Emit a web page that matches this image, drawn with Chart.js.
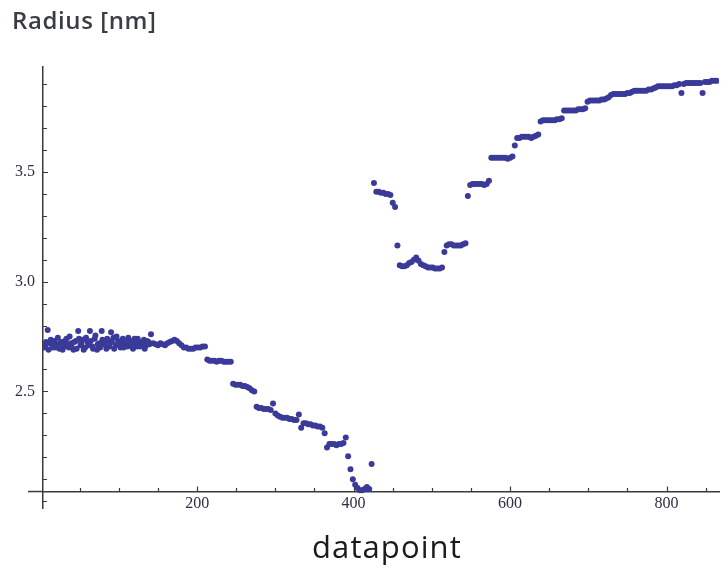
<!DOCTYPE html>
<html>
<head>
<meta charset="utf-8">
<script src="https://cdn.jsdelivr.net/npm/chart.js@4.4.0/dist/chart.umd.min.js"></script>
<style>
  html, body { margin: 0; padding: 0; background: #ffffff; }
  #wrap { position: relative; width: 722px; height: 568px; overflow: hidden; background: #fff; }
  #chart { position: absolute; left: 0; top: 0; }
  #ytitle { position: absolute; left: 12px; top: 3px; font: 600 24px 'Open Sans', sans-serif; letter-spacing: 0.6px; color: #3a3d44; white-space: nowrap; }
  #xtitle { position: absolute; left: 312px; top: 525px; font: 400 31px 'Open Sans', sans-serif; letter-spacing: 1.1px; color: #1a1a1a; white-space: nowrap; }
</style>
</head>
<body>
<div id="wrap">
  <canvas id="chart" width="722" height="568"></canvas>
  <div id="ytitle">Radius [nm]</div>
  <div id="xtitle">datapoint</div>
</div>
<script>
// ---- data ----
const datapoint = [
  3, 6, 9, 12, 15, 18, 21, 24, 27, 30,
  33, 36, 39, 42, 45, 48, 51, 54, 57, 60,
  63, 66, 69, 72, 75, 78, 81, 84, 87, 90,
  93, 96, 99, 102, 105, 108, 111, 114, 117, 120,
  123, 126, 129, 132, 135, 138, 141, 144, 147, 150,
  153, 156, 159, 162, 165, 168, 171, 174, 177, 180,
  183, 186, 189, 192, 195, 198, 201, 204, 207, 210,
  213, 216, 219, 222, 225, 228, 231, 234, 237, 240,
  243, 246, 249, 252, 255, 258, 261, 264, 267, 270,
  273, 276, 279, 282, 285, 288, 291, 294, 297, 300,
  303, 306, 309, 312, 315, 318, 321, 324, 327, 330,
  333, 336, 339, 342, 345, 348, 351, 354, 357, 360,
  363, 366, 369, 372, 375, 378, 381, 384, 387, 390,
  393, 396, 399, 402, 405, 408, 411, 414, 417, 420,
  423, 426, 429, 432, 435, 438, 441, 444, 447, 450,
  453, 456, 459, 462, 465, 468, 471, 474, 477, 480,
  483, 486, 489, 492, 495, 498, 501, 504, 507, 510,
  513, 516, 519, 522, 525, 528, 531, 534, 537, 540,
  543, 546, 549, 552, 555, 558, 561, 564, 567, 570,
  573, 576, 579, 582, 585, 588, 591, 594, 597, 600,
  603, 606, 609, 612, 615, 618, 621, 624, 627, 630,
  633, 636, 639, 642, 645, 648, 651, 654, 657, 660,
  663, 666, 669, 672, 675, 678, 681, 684, 687, 690,
  693, 696, 699, 702, 705, 708, 711, 714, 717, 720,
  723, 726, 729, 732, 735, 738, 741, 744, 747, 750,
  753, 756, 759, 762, 765, 768, 771, 774, 777, 780,
  783, 786, 789, 792, 795, 798, 801, 804, 807, 810,
  813, 816, 819, 822, 825, 828, 831, 834, 837, 840,
  843, 846, 849, 852, 855, 858, 861, 864
];
const radiusNm = [
  2.715, 2.705, 2.78, 2.72, 2.70, 2.73, 2.71, 2.695, 2.725, 2.705,
  2.74, 2.70, 2.72, 2.69, 2.73, 2.775, 2.71, 2.735, 2.70, 2.725,
  2.775, 2.705, 2.74, 2.69, 2.72, 2.775, 2.715, 2.695, 2.73, 2.77,
  2.745, 2.71, 2.73, 2.70, 2.74, 2.72, 2.705, 2.73, 2.715, 2.74,
  2.705, 2.725, 2.715, 2.735, 2.71, 2.725, 2.76, 2.72, 2.715, 2.71,
  2.72, 2.715, 2.71, 2.72, 2.725, 2.73, 2.735, 2.73, 2.72, 2.71,
  2.70, 2.70, 2.695, 2.695, 2.695, 2.70, 2.70, 2.70, 2.705, 2.705,
  2.645, 2.64, 2.64, 2.64, 2.635, 2.64, 2.64, 2.635, 2.635, 2.635,
  2.635, 2.535, 2.53, 2.53, 2.53, 2.525, 2.525, 2.52, 2.515, 2.505,
  2.50, 2.43, 2.425, 2.425, 2.42, 2.42, 2.42, 2.415, 2.445, 2.40,
  2.39, 2.385, 2.38, 2.38, 2.38, 2.375, 2.375, 2.37, 2.37, 2.395,
  2.335, 2.355, 2.355, 2.35, 2.35, 2.345, 2.345, 2.34, 2.34, 2.335,
  2.31, 2.245, 2.26, 2.26, 2.26, 2.255, 2.26, 2.26, 2.265, 2.29,
  2.205, 2.145, 2.10, 2.075, 2.06, 2.05, 2.05, 2.055, 2.065, 2.055,
  2.17, 3.45, 3.41, 3.41, 3.405, 3.405, 3.40, 3.40, 3.395, 3.36,
  3.34, 3.165, 3.075, 3.07, 3.07, 3.075, 3.085, 3.09, 3.10, 3.11,
  3.095, 3.08, 3.075, 3.07, 3.065, 3.065, 3.065, 3.06, 3.06, 3.06,
  3.065, 3.135, 3.165, 3.17, 3.17, 3.165, 3.165, 3.165, 3.165, 3.17,
  3.175, 3.39, 3.44, 3.445, 3.445, 3.445, 3.445, 3.445, 3.44, 3.445,
  3.46, 3.565, 3.565, 3.565, 3.565, 3.565, 3.565, 3.565, 3.56, 3.565,
  3.57, 3.62, 3.655, 3.655, 3.66, 3.66, 3.66, 3.66, 3.655, 3.66,
  3.665, 3.67, 3.73, 3.735, 3.735, 3.735, 3.735, 3.735, 3.735, 3.74,
  3.74, 3.745, 3.78, 3.78, 3.78, 3.78, 3.78, 3.78, 3.785, 3.785,
  3.785, 3.79, 3.82, 3.825, 3.825, 3.825, 3.825, 3.825, 3.83, 3.83,
  3.835, 3.84, 3.85, 3.855, 3.855, 3.855, 3.855, 3.855, 3.855, 3.86,
  3.86, 3.865, 3.87, 3.87, 3.87, 3.87, 3.87, 3.87, 3.875, 3.875,
  3.88, 3.885, 3.89, 3.89, 3.89, 3.89, 3.89, 3.89, 3.89, 3.895,
  3.895, 3.90, 3.86, 3.90, 3.905, 3.905, 3.905, 3.905, 3.905, 3.905,
  3.905, 3.86, 3.91, 3.91, 3.91, 3.915, 3.915, 3.915
];
// additional readings in the noisy opening stretch
const noisyDatapoint = [
  4, 7, 10, 13, 16, 19, 22, 25, 28, 31,
  34, 37, 40, 43, 46, 49, 52, 55, 58, 61,
  64, 67, 70, 73, 76, 79, 82, 85, 88, 91,
  94, 97, 100, 103, 106, 109, 112, 115, 118, 121,
  124, 127, 130, 133, 136, 139
];
const noisyRadiusNm = [
  2.70, 2.725, 2.69, 2.735, 2.715, 2.70, 2.745, 2.72, 2.69, 2.73,
  2.715, 2.75, 2.70, 2.725, 2.695, 2.74, 2.72, 2.69, 2.745, 2.71,
  2.73, 2.695, 2.755, 2.715, 2.70, 2.735, 2.72, 2.74, 2.705, 2.725,
  2.695, 2.75, 2.715, 2.725, 2.70, 2.73, 2.745, 2.71, 2.695, 2.725,
  2.74, 2.705, 2.72, 2.695, 2.73, 2.715
];
// tick labels and tick marks
const xTickLabels = [200, 400, 600, 800];
const xMinorTicks = [50, 100, 150, 200, 250, 300, 350, 400, 450, 500, 550, 600, 650, 700, 750, 800, 850];
const yTickLabels = ['2.5', '3.0', '3.5'];
const yMinorTicks = [2.0, 2.1, 2.2, 2.3, 2.4, 2.5, 2.6, 2.7, 2.8, 2.9, 3.0, 3.1, 3.2, 3.3, 3.4, 3.5, 3.6, 3.7, 3.8, 3.9];

// axis ranges / crossing
const X_MIN = 3, X_MAX = 867, Y_MIN = 1.969, Y_MAX = 3.978;
const X_AXIS_AT_Y = 2.044;

const AXIS_COLOR = '#3a3a3a';

const tickMarks = {
  id: 'tickMarks',
  beforeDatasetsDraw(chart) {
    const xs = chart.scales.x, ys = chart.scales.y, ctx = chart.ctx;
    const axisY = ys.getPixelForValue(X_AXIS_AT_Y);
    const axisX = xs.getPixelForValue(X_MIN);
    ctx.save();
    ctx.strokeStyle = AXIS_COLOR;
    ctx.lineWidth = 1.2;
    ctx.beginPath();
    xMinorTicks.forEach(v => {
      const px = Math.round(xs.getPixelForValue(v)) + 0.5;
      const len = xTickLabels.includes(v) ? 5 : 3.5;
      ctx.moveTo(px, axisY);
      ctx.lineTo(px, axisY - len);
    });
    yMinorTicks.forEach(v => {
      const py = Math.round(ys.getPixelForValue(v)) + 0.5;
      const len = yTickLabels.includes(v.toFixed(1)) ? 5 : 4;
      ctx.moveTo(axisX, py);
      ctx.lineTo(axisX + len, py);
    });
    ctx.stroke();
    // x axis continues a little to the left of the y axis
    ctx.lineWidth = 1.5;
    ctx.beginPath();
    ctx.moveTo(axisX - 15, axisY);
    ctx.lineTo(axisX, axisY);
    ctx.stroke();
    ctx.restore();
  }
};

const points = datapoint.map((x, i) => ({ x: x, y: radiusNm[i] }))
  .concat(noisyDatapoint.map((x, i) => ({ x: x, y: noisyRadiusNm[i] })));

new Chart(document.getElementById('chart'), {
  type: 'scatter',
  data: {
    datasets: [{
      data: points,
      backgroundColor: 'rgb(58,58,152)',
      borderWidth: 0,
      pointRadius: 3,
      pointHoverRadius: 3
    }]
  },
  options: {
    responsive: false,
    animation: false,
    devicePixelRatio: 1,
    layout: { padding: { left: 0, right: 0, top: 67, bottom: 60 } },
    plugins: { legend: { display: false }, tooltip: { enabled: false } },
    scales: {
      x: {
        type: 'linear',
        min: X_MIN, max: X_MAX,
        position: { y: X_AXIS_AT_Y },
        grid: { display: false, drawTicks: false },
        border: { display: true, color: AXIS_COLOR, width: 1.5 },
        afterBuildTicks: s => { s.ticks = xTickLabels.map(v => ({ value: v })); },
        ticks: {
          autoSkip: false, maxRotation: 0, padding: 3,
          color: '#2e2e44',
          font: { family: 'Liberation Serif', size: 16 },
          callback: v => String(v)
        }
      },
      y: {
        type: 'linear',
        min: Y_MIN, max: Y_MAX,
        position: 'left',
        afterFit: s => { s.width = 43; },
        grid: { display: false, drawTicks: false },
        border: { display: true, color: AXIS_COLOR, width: 1.5 },
        afterBuildTicks: s => { s.ticks = yTickLabels.map(v => ({ value: parseFloat(v) })); },
        ticks: {
          autoSkip: false, padding: 8,
          color: '#2e2e44',
          font: { family: 'Liberation Serif', size: 16 },
          callback: v => Number(v).toFixed(1)
        }
      }
    }
  },
  plugins: [tickMarks]
});
</script>
</body>
</html>
